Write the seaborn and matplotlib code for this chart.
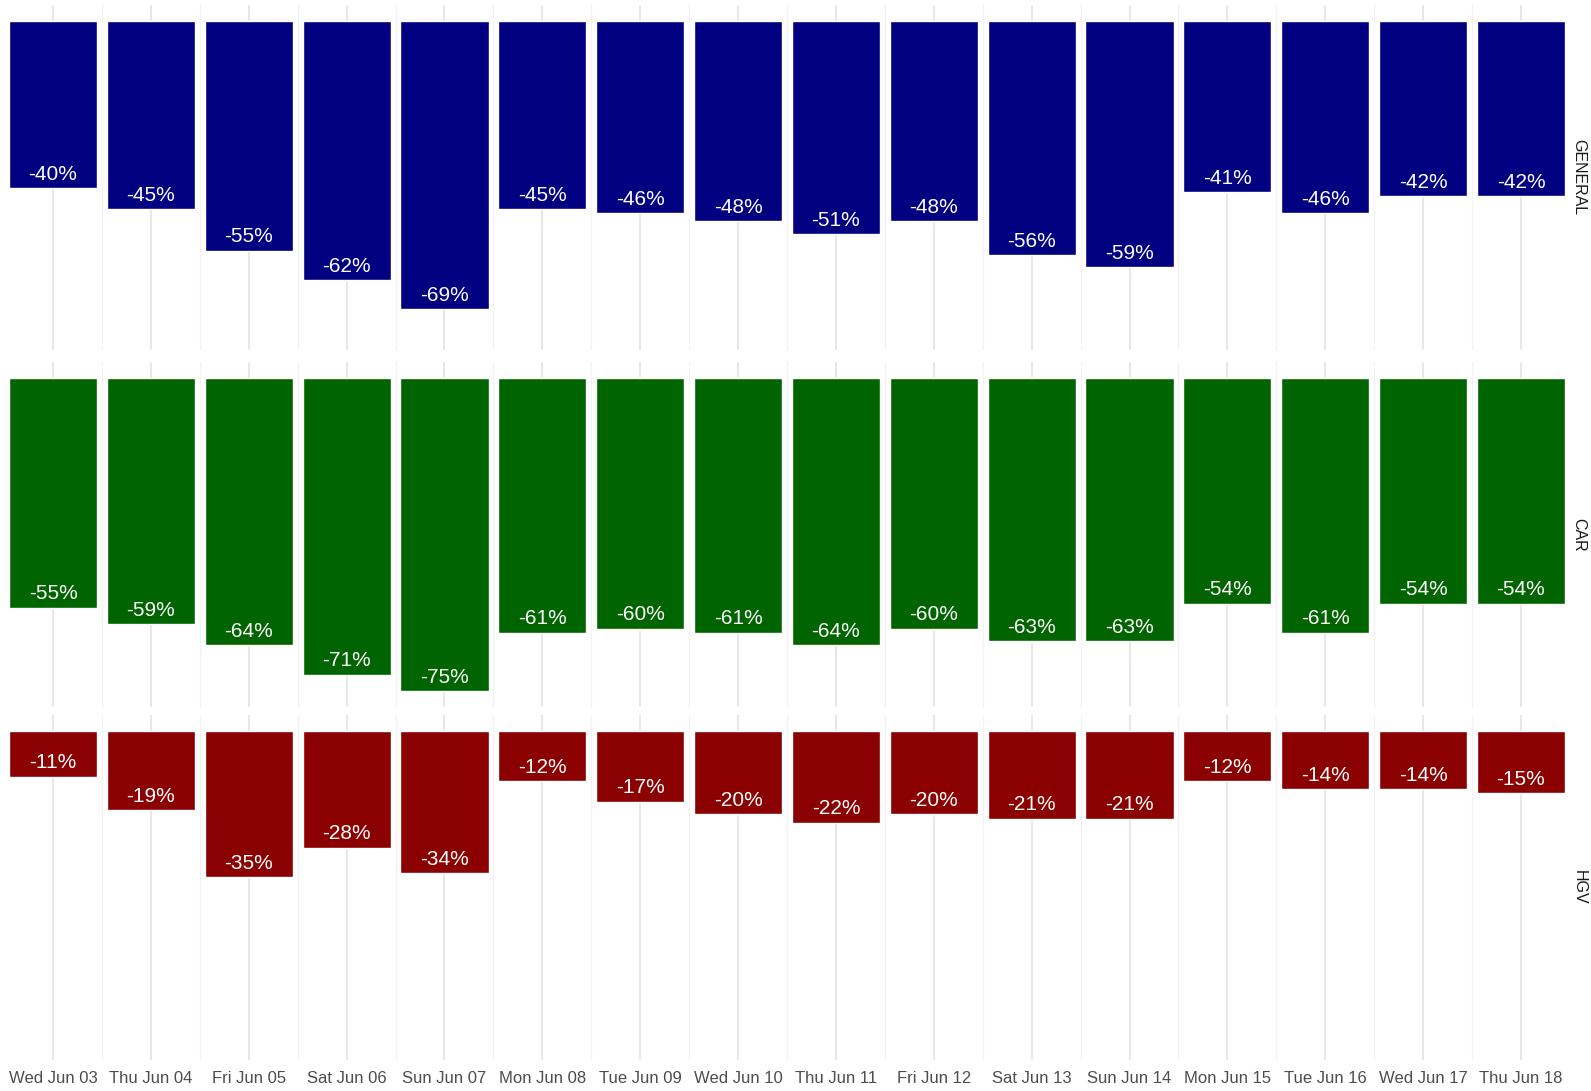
import pandas as pd
import numpy as np
import matplotlib
matplotlib.use("Agg")
import matplotlib.pyplot as plt
import seaborn as sns

days = ["Wed Jun 03", "Thu Jun 04", "Fri Jun 05", "Sat Jun 06", "Sun Jun 07",
        "Mon Jun 08", "Tue Jun 09", "Wed Jun 10", "Thu Jun 11", "Fri Jun 12",
        "Sat Jun 13", "Sun Jun 14", "Mon Jun 15", "Tue Jun 16", "Wed Jun 17",
        "Thu Jun 18"]
general = [-40, -45, -55, -62, -69, -45, -46, -48, -51, -48, -56, -59, -41, -46, -42, -42]
car = [-55, -59, -64, -71, -75, -61, -60, -61, -64, -60, -63, -63, -54, -61, -54, -54]
hgv = [-11, -19, -35, -28, -34, -12, -17, -20, -22, -20, -21, -21, -12, -14, -14, -15]
types = ["GENERAL", "CAR", "HGV"]
colors = {"GENERAL": "#000080", "CAR": "#006400", "HGV": "#8B0000"}

df = pd.DataFrame({
    "day": days * 3,
    "change": general + car + hgv,
    "type": [t for t in types for _ in days],
})

sns.set_style("white")
plt.rcParams["font.family"] = ["Liberation Sans", "DejaVu Sans"]

W, H = 1591, 1091
fig = plt.figure(figsize=(W / 100, H / 100), dpi=100)

# panel top/bottom in pixels
panels = [(5, 350), (362, 707), (715, 1060)]
left, right = 9, 1565
ylo = df["change"].min()
pad = 0.05 * (0 - ylo)

for t, (top, bot) in zip(types, panels):
    ax = fig.add_axes([left / W, 1 - bot / H, (right - left) / W, (bot - top) / H])
    sub = df[df["type"] == t]
    sns.barplot(data=sub, x="day", y="change", order=days, color=colors[t],
                saturation=1, width=0.9, ax=ax, zorder=2)
    for i, v in enumerate(sub["change"]):
        ax.annotate(f"{v}%", (i, v), xytext=(0, 6), textcoords="offset points",
                    ha="center", va="baseline", color="white", fontsize=15,
                    zorder=3)
    ax.set_xlim(-0.45, len(days) - 0.55)
    ax.set_ylim(ylo - pad, pad)
    ax.set_xticks(range(len(days)))
    ax.set_xticks(np.arange(0.5, len(days) - 1, 1.0), minor=True)
    ax.grid(axis="x", which="major", color="#e8e8e8", linewidth=1.5, zorder=0)
    ax.grid(axis="x", which="minor", color="#f2f2f2", linewidth=0.9, zorder=0)
    ax.set_axisbelow(True)
    ax.set_yticks([])
    ax.set_xlabel("")
    ax.set_ylabel("")
    for s in ax.spines.values():
        s.set_visible(False)
    ax.text(1 + 14 / (right - left), 0.5, t, transform=ax.transAxes,
            rotation=270, ha="center", va="center", fontsize=11.5, color="#1a1a1a")
    if t == "HGV":
        ax.set_xticklabels(days, fontsize=12, color="#4d4d4d")
        ax.tick_params(axis="x", which="major", length=4, width=1, color="#333333", pad=4)
        ax.tick_params(axis="x", which="minor", length=0)
    else:
        ax.set_xticklabels([])
        ax.tick_params(axis="x", which="both", length=0)

fig.savefig("out.png", dpi=100)
